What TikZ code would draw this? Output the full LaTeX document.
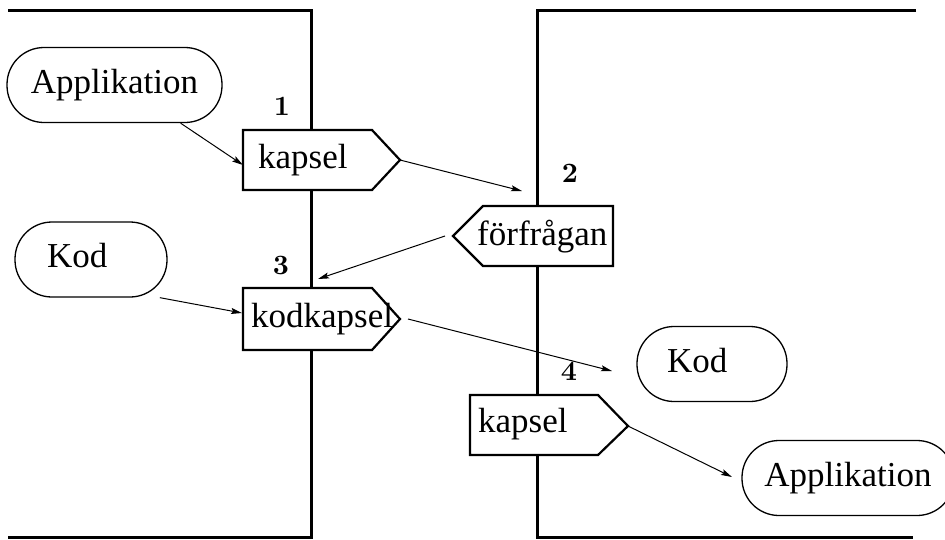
\documentclass[tikz,border=0pt]{standalone}
\usepackage{fontspec}
\newfontfamily\labelfont{Liberation Serif}
\newfontfamily\numfont{lmroman10-bold.otf}
\usetikzlibrary{arrows.meta}
\begin{document}
\begin{tikzpicture}[x=1pt,y=-1pt,
  wall/.style={line width=3pt},
  term/.style={draw, line width=1.3pt, rounded corners=37pt,
    minimum height=75pt, inner ysep=0pt, text height=24pt, text depth=8pt,
    font=\labelfont\fontsize{35}{35}\selectfont},
  capsule/.style={draw, fill=white, line width=2.2pt, line join=miter},
  word/.style={font=\labelfont\fontsize{35}{35}\selectfont, inner sep=0pt, anchor=base west},
  num/.style={font=\numfont\fontsize{28}{28}\selectfont, inner sep=0pt, anchor=base},
  link/.style={line width=1pt, -{Stealth[length=11pt,width=6pt,inset=2pt]}}]

\useasboundingbox (0,0) rectangle (945,539);

% the two hosts
\draw[wall] (8,10) -- (311,10) -- (311,537) -- (8,537);
\draw[wall] (916,10) -- (537,10) -- (537,537) -- (913,537);

% programs and code on each side
\node[term, minimum width=215pt, inner xsep=0pt] (appL) at (114.5,85) {Applikation};
\node[term, text width=88pt, inner xsep=32pt, align=left] (kodL) at (91,259.5) {Kod};
\node[term, text width=90pt, inner xsep=30pt, align=left] (kodR) at (712,364) {Kod};
\node[term, minimum width=212pt, inner xsep=0pt] (appR) at (848,478) {Applikation};

% capsules crossing the borders
\draw[capsule] (243,130) -- (372,130) -- (400,160) coordinate (cap1tip)
  -- (372,190) -- (243,190) -- cycle;
\draw[capsule] (453,236) coordinate (reqtip) -- (483,206) -- (613,206)
  -- (613,266) -- (483,266) -- cycle;
\draw[capsule] (243,288) -- (372,288) -- (400,319) coordinate (cap3tip)
  -- (372,350) -- (243,350) -- cycle;
\draw[capsule] (470,395) -- (598,395) -- (628,426) coordinate (cap4tip)
  -- (598,455) -- (470,455) -- cycle;

\node[word] (cap1) at (258,168) {kapsel};
\node[word] (req) at (477,245) {förfrågan};
\node[word] (cap3) at (251,327) {kodkapsel};
\node[word] (cap4) at (478,432) {kapsel};

% step numbers
\node[num] (n1) at (282,115) {1};
\node[num] (n2) at (570,182) {2};
\node[num] (n3) at (281,274) {3};
\node[num] (n4) at (569,380) {4};

% message flow
\coordinate (cap1in) at (243,165);
\coordinate (reqend) at (522,191);
\coordinate (reqout) at (445,236);
\coordinate (cap3top) at (318,279);
\coordinate (cap3in) at (242,313);
\coordinate (cap3out) at (408,319);
\coordinate (kodend) at (612,371);
\coordinate (append) at (732,477);

\draw[link] (appL.-30) -- (cap1in);
\draw[link] (cap1tip) -- (reqend);
\draw[link] (reqout) -- (cap3top);
\draw[link] (kodL.-29) -- (cap3in);
\draw[link] (cap3out) -- (kodend);
\draw[link] (cap4tip) -- (append);
\end{tikzpicture}
\end{document}
